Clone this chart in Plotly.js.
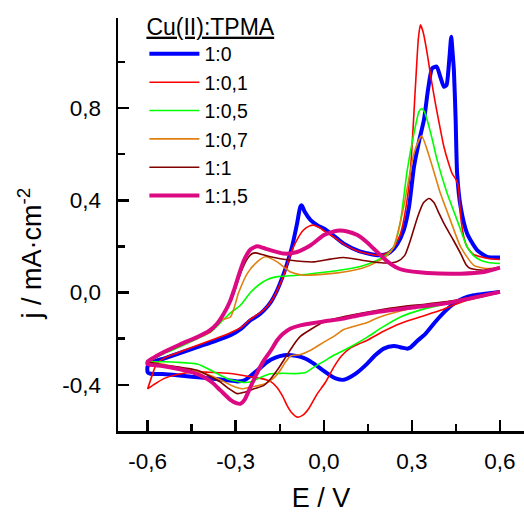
<!DOCTYPE html>
<html>
<head>
<meta charset="utf-8">
<script src="https://cdn.plot.ly/plotly-3.0.1.min.js"></script>
<style>html,body{margin:0;padding:0;background:#fff;}#chart{width:524px;height:513px;}</style>
</head>
<body>
<div id="chart"></div>
<script>
// ---- Data (E / V, j / mA·cm^-2); each curve: reverse (cathodic) branch 0.6 -> -0.6, then forward (anodic) branch -0.6 -> 0.6
const seriesNames = ['1:0', '1:0,1', '1:0,5', '1:0,7', '1:1', '1:1,5'];

const E_10 = [0.60,0.55,0.511,0.475,0.443,0.41,0.375,0.345,0.318,0.295,0.284,0.265,0.238,0.204,0.175,0.148,0.11,0.068,0.04,0.023,-0.005,-0.034,-0.06,-0.079,-0.11,-0.136,-0.165,-0.193,-0.22,-0.25,-0.27,-0.295,-0.33,-0.386,-0.45,-0.5,-0.55,-0.59,-0.60,
  -0.60,-0.58,-0.545,-0.49,-0.431,-0.37,-0.318,-0.28,-0.25,-0.225,-0.204,-0.18,-0.159,-0.14,-0.125,-0.108,-0.091,-0.08,-0.075,-0.065,-0.045,-0.02,0.0,0.035,0.068,0.12,0.182,0.21,0.227,0.25,0.272,0.29,0.307,0.325,0.341,0.355,0.369,0.384,0.398,0.409,0.418,0.424,0.429,0.434,0.438,0.443,0.449,0.454,0.466,0.488,0.522,0.556,0.60];
const j_10 = [0.003,-0.005,-0.012,-0.025,-0.048,-0.085,-0.134,-0.18,-0.21,-0.238,-0.243,-0.238,-0.232,-0.243,-0.272,-0.308,-0.35,-0.378,-0.372,-0.36,-0.335,-0.308,-0.288,-0.279,-0.272,-0.272,-0.282,-0.301,-0.33,-0.362,-0.38,-0.385,-0.38,-0.372,-0.365,-0.358,-0.353,-0.352,-0.345,
  -0.32,-0.30,-0.286,-0.262,-0.236,-0.21,-0.185,-0.155,-0.12,-0.10,-0.077,-0.04,0.01,0.07,0.126,0.20,0.30,0.372,0.378,0.35,0.314,0.29,0.278,0.245,0.212,0.18,0.162,0.165,0.176,0.21,0.27,0.37,0.545,0.66,0.748,0.88,0.972,0.979,0.93,0.892,0.90,0.96,1.037,1.109,1.05,0.964,0.748,0.517,0.371,0.256,0.184,0.155,0.152];

const E_101 = [0.60,0.55,0.488,0.44,0.397,0.33,0.261,0.20,0.148,0.115,0.091,0.06,0.034,0.005,-0.023,-0.05,-0.07,-0.09,-0.11,-0.125,-0.14,-0.16,-0.182,-0.216,-0.25,-0.318,-0.431,-0.50,-0.545,-0.58,-0.60,
  -0.60,-0.585,-0.57,-0.545,-0.50,-0.43,-0.37,-0.32,-0.28,-0.25,-0.22,-0.20,-0.175,-0.155,-0.135,-0.115,-0.095,-0.07,-0.05,-0.034,-0.015,0.0,0.035,0.068,0.12,0.18,0.21,0.235,0.26,0.28,0.295,0.312,0.322,0.329,0.338,0.352,0.365,0.38,0.395,0.409,0.425,0.437,0.45,0.458,0.466,0.477,0.488,0.51,0.534,0.56,0.60];
const j_101 = [0.0,-0.015,-0.033,-0.055,-0.077,-0.105,-0.134,-0.17,-0.207,-0.225,-0.24,-0.275,-0.323,-0.39,-0.44,-0.50,-0.53,-0.54,-0.52,-0.49,-0.45,-0.41,-0.385,-0.372,-0.365,-0.351,-0.344,-0.355,-0.373,-0.40,-0.417,
  -0.417,-0.36,-0.31,-0.285,-0.262,-0.228,-0.20,-0.175,-0.15,-0.115,-0.09,-0.07,-0.03,0.02,0.08,0.16,0.22,0.27,0.288,0.292,0.282,0.268,0.24,0.21,0.178,0.162,0.168,0.19,0.25,0.37,0.53,0.892,1.10,1.16,1.13,1.037,0.93,0.82,0.72,0.632,0.56,0.516,0.49,0.46,0.33,0.24,0.198,0.165,0.155,0.148,0.143];

const E_105 = [0.60,0.50,0.409,0.33,0.261,0.20,0.148,0.09,0.034,0.0,-0.034,-0.06,-0.091,-0.14,-0.182,-0.21,-0.24,-0.27,-0.30,-0.329,-0.38,-0.431,-0.50,-0.545,-0.60,
  -0.60,-0.545,-0.49,-0.431,-0.386,-0.352,-0.32,-0.284,-0.25,-0.22,-0.19,-0.15,-0.09,0.0,0.07,0.13,0.182,0.215,0.238,0.26,0.284,0.307,0.324,0.333,0.342,0.352,0.37,0.386,0.42,0.454,0.488,0.51,0.534,0.56,0.60];
const j_105 = [0.0,-0.025,-0.05,-0.075,-0.106,-0.15,-0.193,-0.236,-0.272,-0.298,-0.323,-0.345,-0.351,-0.35,-0.352,-0.365,-0.383,-0.39,-0.383,-0.373,-0.34,-0.31,-0.302,-0.30,-0.30,
  -0.30,-0.265,-0.235,-0.20,-0.171,-0.13,-0.09,-0.055,0.0,0.035,0.058,0.07,0.075,0.088,0.10,0.115,0.14,0.165,0.198,0.30,0.53,0.69,0.784,0.798,0.785,0.748,0.66,0.574,0.43,0.314,0.198,0.16,0.14,0.13,0.126];

const E_107 = [0.60,0.50,0.40,0.33,0.261,0.182,0.148,0.068,0.034,0.0,-0.045,-0.079,-0.113,-0.13,-0.15,-0.17,-0.20,-0.25,-0.278,-0.31,-0.35,-0.386,-0.45,-0.50,-0.55,-0.60,
  -0.60,-0.545,-0.49,-0.431,-0.386,-0.352,-0.318,-0.29,-0.261,-0.227,-0.199,-0.159,-0.113,-0.068,0.023,0.068,0.13,0.182,0.215,0.238,0.272,0.307,0.333,0.363,0.397,0.431,0.466,0.511,0.556,0.60];
const j_107 = [0.0,-0.022,-0.045,-0.06,-0.08,-0.11,-0.13,-0.16,-0.19,-0.215,-0.25,-0.268,-0.275,-0.30,-0.34,-0.37,-0.395,-0.41,-0.417,-0.405,-0.38,-0.359,-0.335,-0.323,-0.31,-0.30,
  -0.30,-0.262,-0.23,-0.196,-0.171,-0.12,-0.106,0.0,0.082,0.133,0.155,0.133,0.089,0.075,0.082,0.089,0.105,0.133,0.16,0.198,0.371,0.603,0.678,0.574,0.43,0.314,0.198,0.118,0.104,0.11];

const E_11 = [0.60,0.50,0.443,0.35,0.261,0.17,0.091,0.04,0.0,-0.045,-0.08,-0.102,-0.13,-0.159,-0.185,-0.204,-0.238,-0.27,-0.295,-0.325,-0.352,-0.40,-0.431,-0.50,-0.545,-0.60,
  -0.60,-0.545,-0.49,-0.431,-0.386,-0.352,-0.318,-0.30,-0.284,-0.261,-0.245,-0.233,-0.21,-0.182,-0.113,-0.034,0.023,0.068,0.13,0.204,0.25,0.275,0.295,0.32,0.34,0.358,0.375,0.39,0.409,0.44,0.466,0.485,0.50,0.545,0.60];
const j_11 = [0.0,-0.02,-0.035,-0.05,-0.062,-0.08,-0.098,-0.112,-0.128,-0.16,-0.19,-0.225,-0.28,-0.337,-0.38,-0.402,-0.417,-0.432,-0.438,-0.415,-0.388,-0.355,-0.337,-0.322,-0.315,-0.30,
  -0.30,-0.262,-0.23,-0.195,-0.168,-0.12,-0.04,0.02,0.082,0.145,0.168,0.172,0.165,0.155,0.14,0.133,0.145,0.152,0.14,0.128,0.135,0.16,0.227,0.33,0.39,0.408,0.39,0.35,0.30,0.23,0.169,0.12,0.104,0.097,0.108];

const E_115 = [0.60,0.50,0.409,0.30,0.182,0.12,0.068,0.0,-0.045,-0.08,-0.113,-0.14,-0.159,-0.18,-0.204,-0.228,-0.25,-0.27,-0.284,-0.30,-0.318,-0.352,-0.38,-0.409,-0.45,-0.499,-0.55,-0.60,
  -0.60,-0.545,-0.49,-0.431,-0.39,-0.363,-0.34,-0.32,-0.306,-0.29,-0.272,-0.25,-0.227,-0.205,-0.182,-0.136,-0.091,-0.045,0.0,0.045,0.08,0.114,0.145,0.17,0.195,0.216,0.245,0.272,0.352,0.466,0.545,0.60];
const j_115 = [0.003,-0.025,-0.048,-0.065,-0.084,-0.098,-0.113,-0.125,-0.134,-0.142,-0.156,-0.18,-0.207,-0.25,-0.294,-0.35,-0.41,-0.465,-0.482,-0.478,-0.465,-0.424,-0.39,-0.366,-0.345,-0.33,-0.318,-0.31,
  -0.30,-0.258,-0.225,-0.193,-0.165,-0.134,-0.09,-0.04,0.01,0.075,0.14,0.187,0.201,0.193,0.184,0.169,0.176,0.205,0.249,0.268,0.265,0.249,0.22,0.19,0.16,0.135,0.11,0.097,0.085,0.082,0.089,0.108];

const xTickVals = [-0.6, -0.3, 0.0, 0.3, 0.6];
const xTickText = ['-0,6', '-0,3', '0,0', '0,3', '0,6'];
const yTickVals = [-0.4, 0.0, 0.4, 0.8];
const yTickText = ['-0,4', '0,0', '0,4', '0,8'];

const Es = [E_10, E_101, E_105, E_107, E_11, E_115];
const js = [j_10, j_101, j_105, j_107, j_11, j_115];
const colors = ['#0000FF', '#FF0000', '#00FF00', '#E08010', '#800000', '#DC0A82'];
const widths = [4, 1.6, 1.6, 1.6, 1.6, 4];

const traces = seriesNames.map((n, i) => ({
  type: 'scatter', mode: 'lines', name: n,
  x: Es[i], y: js[i],
  line: {color: colors[i], width: widths[i], shape: 'spline', smoothing: 0.6}
}));

const FONT = 'Liberation Sans, Arial, sans-serif';
const layout = {
  width: 524, height: 513,
  margin: {l: 118, r: 0, t: 18, b: 82.4},
  paper_bgcolor: '#fff', plot_bgcolor: '#fff',
  font: {family: FONT, color: '#000', size: 21},
  showlegend: true,
  legend: {
    x: 0.065, xanchor: 'left', y: 1.032, yanchor: 'top',
    bgcolor: 'rgba(0,0,0,0)', borderwidth: 0,
    font: {family: FONT, size: 19.5, color: '#000'},
    title: {text: '<u>Cu(II):TPMA</u>', font: {family: FONT, size: 23, color: '#000'}},
    itemwidth: 50, tracegroupgap: 0
  },
  xaxis: {
    range: [-0.701, 0.6818], showgrid: false, zeroline: false,
    showline: true, linecolor: '#000', linewidth: 2.5,
    ticks: 'inside', ticklen: 11, tickwidth: 2.5, tickcolor: '#000',
    tickmode: 'array', tickvals: xTickVals, ticktext: xTickText,
    tickfont: {family: FONT, size: 22.5, color: '#000'},
    ticklabelstandoff: 8,
    minor: {ticks: 'inside', ticklen: 7, tickwidth: 2.5, tickcolor: '#000', tickmode: 'linear', tick0: -0.6, dtick: 0.15},
    title: {text: 'E / V', font: {family: FONT, size: 27, color: '#000'}, standoff: 20}
  },
  yaxis: {
    range: [-0.6, 1.19], showgrid: false, zeroline: false,
    showline: true, linecolor: '#000', linewidth: 2.5,
    ticks: 'inside', ticklen: 11, tickwidth: 2.5, tickcolor: '#000',
    tickmode: 'array', tickvals: yTickVals, ticktext: yTickText,
    tickfont: {family: FONT, size: 22.5, color: '#000'},
    ticklabelstandoff: 10,
    minor: {ticks: 'inside', ticklen: 7, tickwidth: 2.5, tickcolor: '#000', tickmode: 'linear', tick0: -0.6, dtick: 0.2}
  },
  annotations: [{
    xref: 'paper', yref: 'paper', x: -0.2167, y: 0.43,
    text: 'j / mA·cm<sup>-2</sup>', textangle: -90, showarrow: false,
    xanchor: 'center', yanchor: 'middle',
    font: {family: FONT, size: 27, color: '#000'}
  }]
};

Plotly.newPlot('chart', traces, layout, {displayModeBar: false, staticPlot: true});
</script>
</body>
</html>
